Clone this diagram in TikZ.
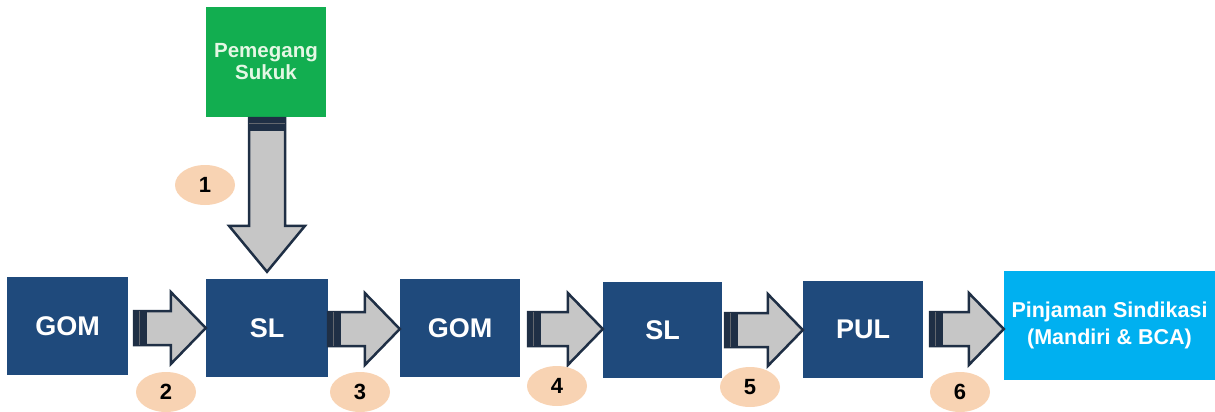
\documentclass[tikz,border=0pt]{standalone}
\usepackage{fontspec}
\setmainfont{Liberation Sans}
\usetikzlibrary{calc,shapes.geometric}
\definecolor{navy}{HTML}{1F4A7C}
\definecolor{outl}{HTML}{1F2F45}
\definecolor{grn}{HTML}{12AE50}
\definecolor{grntext}{HTML}{E4F7E4}
\definecolor{lblue}{HTML}{00B0F0}
\definecolor{peach}{HTML}{F8D3B3}
\definecolor{arrfill}{HTML}{C6C6C6}
\tikzset{
  box/.style={rectangle, fill=navy, text=white, font=\fontsize{27}{29}\selectfont\bfseries, inner sep=0pt, minimum width=120pt, minimum height=98pt},
  numball/.style={ellipse, fill=peach, text=black, font=\fontsize{22}{24}\selectfont\bfseries, inner sep=0pt, minimum width=60pt, minimum height=40pt},
  blockarr/.style={fill=arrfill, draw=outl, line width=2.5pt, line join=miter},
  capfill/.style={fill=outl},
  capline/.style={draw=gray!70!outl, line width=0.8pt}
}
\newcommand\rblock[2]{%
  \filldraw[blockarr] ($(#1)+(0,-17)$) -- ($(#2)+(-35,-17)$) -- ($(#2)+(-35,-36)$) -- (#2) -- ($(#2)+(-35,36)$) -- ($(#2)+(-35,17)$) -- ($(#1)+(0,17)$) -- cycle;
  \fill[capfill] ($(#1)+(-1.2,-18.2)$) rectangle ($(#1)+(13,18.2)$);
  \draw[capline] ($(#1)+(5,-17)$) -- ($(#1)+(5,17)$);
}
\begin{document}
\begin{tikzpicture}[x=1pt,y=-1pt]
\useasboundingbox (0,0) rectangle (1215,412);
% nodes
\node[box, minimum width=121pt] (gom1) at (67.5,326) {GOM};
\node[box, minimum width=122pt] (sl1) at (267,328) {SL};
\node[box] (gom2) at (460,328) {GOM};
\node[box, minimum width=119pt, minimum height=96pt] (sl2) at (662.5,330) {SL};
\node[box, minimum height=97pt] (pul) at (863,329.5) {PUL};
\node[rectangle, fill=lblue, text=white, font=\fontsize{21.5}{28}\selectfont\bfseries, align=center, inner sep=0pt, minimum width=211pt, minimum height=109pt] (pin) at (1109.5,325.5) {Pinjaman Sindikasi\\[-1pt](Mandiri \& BCA)};
\node[rectangle, fill=grn, text=grntext, font=\fontsize{20.5}{22}\selectfont\bfseries, align=center, inner sep=0pt, minimum width=120pt, minimum height=110pt] (pem) at (266,62) {Pemegang\\Sukuk};
% down arrow
\coordinate (t1) at (267,118);
\coordinate (h1) at ($(sl1.north)+(0,-7)$);
\filldraw[blockarr] ($(t1)+(-18,0)$) -- ($(h1)+(-18,-46)$) -- ($(h1)+(-38,-46)$) -- (h1) -- ($(h1)+(38,-46)$) -- ($(h1)+(18,-46)$) -- ($(t1)+(18,0)$) -- cycle;
\fill[capfill] ($(t1)+(-19.2,-1)$) rectangle ($(t1)+(19.2,13)$);
\draw[capline] ($(t1)+(-18,5)$) -- ($(t1)+(18,5)$);
% horizontal arrows
\coordinate (t2) at (134,328);
\coordinate (h2) at (sl1.west |- t2);
\rblock{t2}{h2}
\coordinate (t3) at (328,329);
\coordinate (h3) at (gom2.west |- t3);
\rblock{t3}{h3}
\coordinate (t4) at (528,329);
\coordinate (h4) at (sl2.west |- t4);
\rblock{t4}{h4}
\coordinate (t5) at (725,330);
\coordinate (h5) at (pul.west |- t5);
\rblock{t5}{h5}
\coordinate (t6) at (930,329);
\coordinate (h6) at (pin.west |- t6);
\rblock{t6}{h6}
% number labels
\node[numball] (n1) at (205,185) {1};
\node[numball] (n2) at (166,392) {2};
\node[numball] (n3) at (360,392) {3};
\node[numball] (n4) at (557,386) {4};
\node[numball] (n5) at (750,387) {5};
\node[numball] (n6) at (960,392) {6};
\end{tikzpicture}
\end{document}
